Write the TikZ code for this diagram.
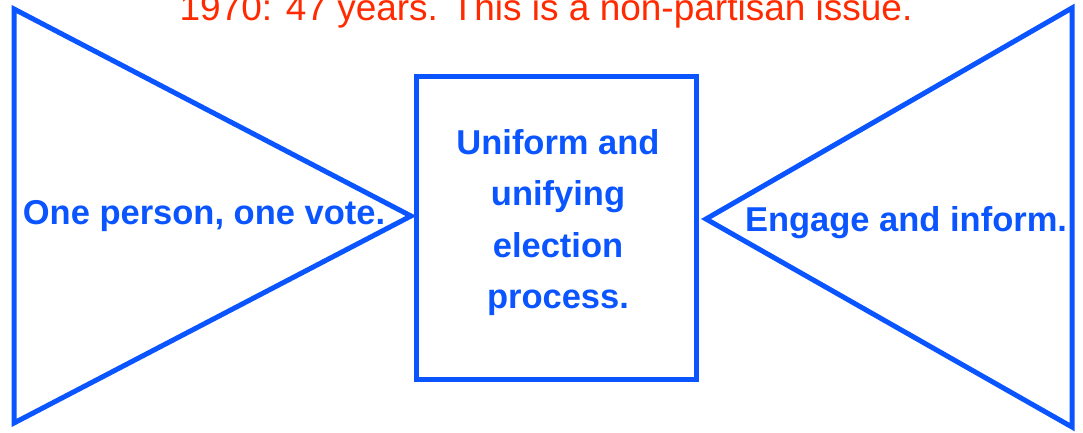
\documentclass[tikz,border=0pt]{standalone}
\usepackage{fontspec}
\setmainfont{Liberation Sans}
\definecolor{shapeblue}{HTML}{0A55FF}
\definecolor{notered}{HTML}{FF2A00}
\begin{document}
\begin{tikzpicture}[x=1pt,y=-1pt,
  outline/.style={draw=shapeblue,line width=5pt,line join=miter},
  bluetext/.style={text=shapeblue,font=\bfseries\fontsize{34.5}{51.3}\selectfont,inner sep=0pt},
  redtext/.style={text=notered,font=\fontsize{37}{44}\selectfont,inner sep=0pt}]
\useasboundingbox (0,0) rectangle (1083,432);
% left triangle
\coordinate (lt) at (14,9);
\coordinate (lb) at (14,423);
\coordinate (ltip) at (411,216);
\draw[outline] (lt) -- (ltip) -- (lb) -- cycle;
% right triangle
\coordinate (rt) at (1072,8);
\coordinate (rb) at (1072,427);
\coordinate (rtip) at (706,219);
\draw[outline] (rt) -- (rtip) -- (rb) -- cycle;
% centre box
\node[outline,minimum width=280pt,minimum height=303pt,inner sep=0pt] (box) at (556,228) {};
% texts
\node[redtext,anchor=base] (title) at (546,20) {1970: 47 years. This is a non-partisan issue.};
\node[bluetext,anchor=base] (left) at (204,224) {One person, one vote.};
\node[bluetext,anchor=base] (right) at (906,231) {Engage and inform.};
\node[bluetext,align=center] (mid) at (558,222.5) {Uniform and\\unifying\\election\\process.};
\end{tikzpicture}
\end{document}
